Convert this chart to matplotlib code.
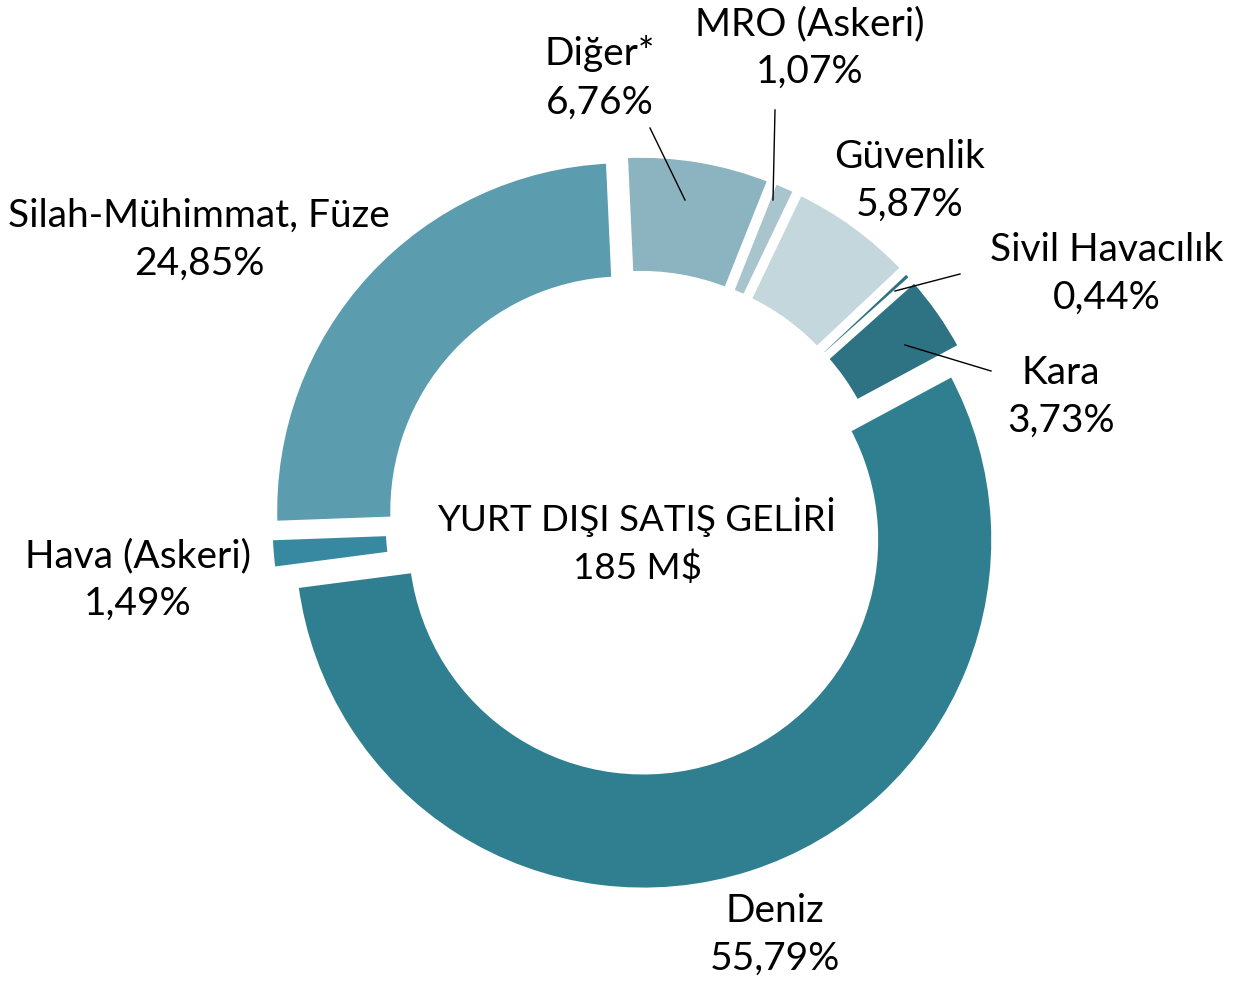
import numpy as np
import matplotlib
matplotlib.use('Agg')
import matplotlib.pyplot as plt

# data, clockwise from the Deniz slice
labels = ['Deniz', 'Hava (Askeri)', 'Silah-Mühimmat, Füze', 'Diğer*',
          'MRO (Askeri)', 'Güvenlik', 'Sivil Havacılık', 'Kara']
shares = [55.79, 1.49, 24.85, 6.76, 1.07, 5.87, 0.44, 3.73]
colors = ['#2F7F91', '#3689A0', '#5B9CAF', '#8CB3C0',
          '#A8C5CE', '#C4D7DD', '#2F7383', '#2E7384']
center_text = 'YURT DIŞI SATIŞ GELİRİ\n185 M$'

# pixel geometry of the reference
W, H = 1238, 985
CX, CY, R = 638, 523, 351


def px(x, y):
    """pixel position -> data position"""
    return (x - CX) / R, (CY - y) / R


plt.rcParams['font.family'] = ['Lato', 'DejaVu Sans']
fig = plt.figure(figsize=(W / 100, H / 100), dpi=100)
ax = fig.add_axes([0, 0, 1, 1])

ax.pie(shares, colors=colors, startangle=28.3, counterclock=False,
       explode=[0.05] * len(shares), radius=1.0,
       wedgeprops=dict(width=0.34, edgecolor='white', linewidth=4.5))

ax.set_xlim(-CX / R, (W - CX) / R)
ax.set_ylim((CY - H) / R, CY / R)
ax.set_aspect('equal')
ax.axis('off')

# label positions (pixel centres of each two-line block)
label_pos = [(775, 935), (138, 580), (199, 240), (600, 78),
             (810, 48), (910, 181), (1107, 274), (1061, 397)]
fs = 28
for lab, val, (x, y) in zip(labels, shares, label_pos):
    txt = lab + '\n' + f'{val:.2f}'.replace('.', ',') + '%'
    ax.text(*px(x, y), txt, ha='center', va='center', fontsize=fs,
            linespacing=1.42, color='black')

ax.text(*px(637, 541), center_text, ha='center', va='center', fontsize=26.5,
        linespacing=1.5, color='black')

# leader lines
leaders = [((650, 128), (685, 200)),
           ((775, 110), (773, 200)),
           ((960, 274), (895, 291)),
           ((905, 345), (991, 371))]
for (x0, y0), (x1, y1) in leaders:
    a, b = px(x0, y0)
    c, d = px(x1, y1)
    ax.plot([a, c], [b, d], color='black', lw=1.0)

fig.savefig('out.png', dpi=100)
